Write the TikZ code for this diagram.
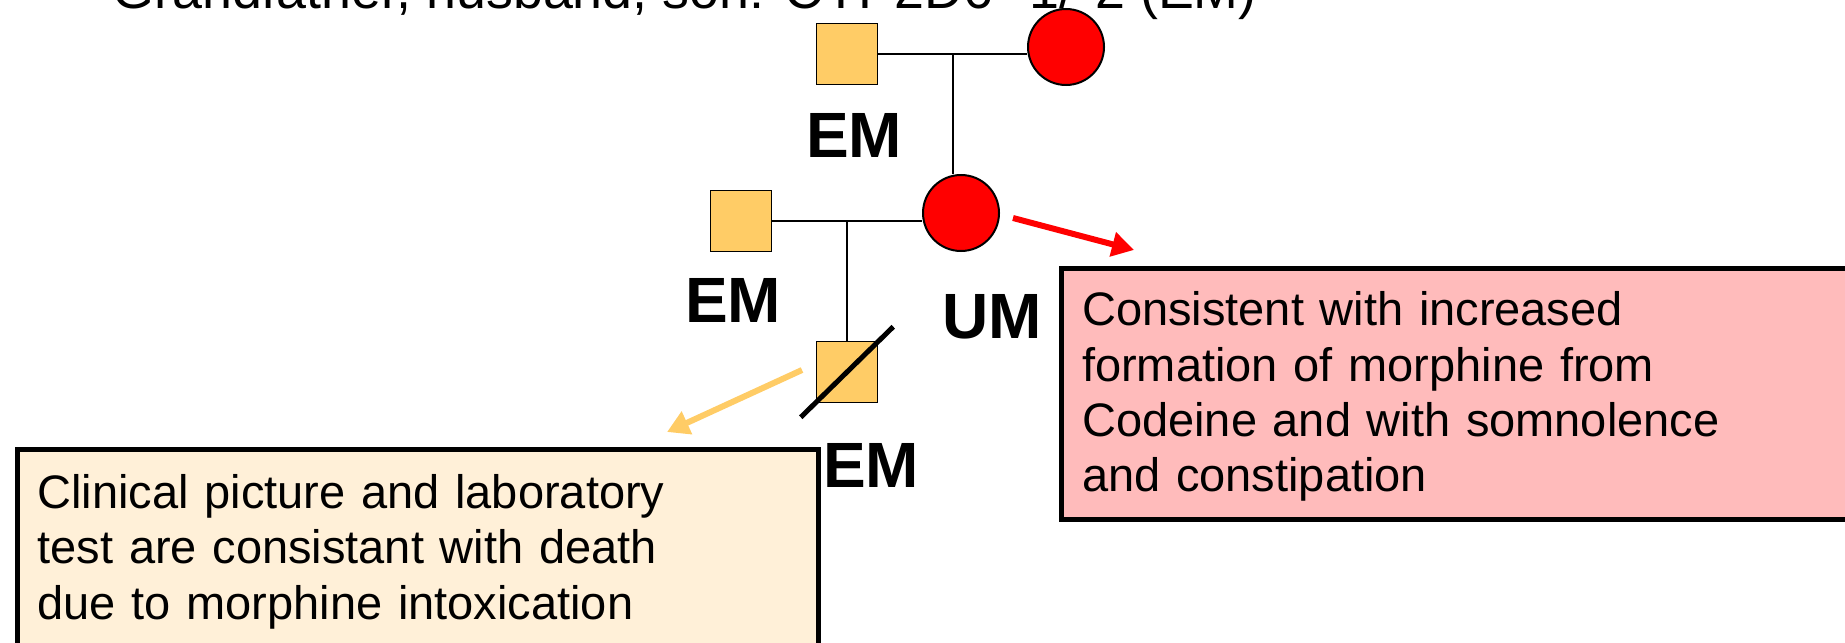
\documentclass[tikz,border=0pt]{standalone}
\usepackage{fontspec}
\setmainfont{Liberation Sans}
\usepackage{tikz}
\usetikzlibrary{arrows.meta,positioning}
\definecolor{emfill}{HTML}{FFCC66}
\definecolor{creamnote}{HTML}{FFF0D8}
\definecolor{pinknote}{HTML}{FFBBBB}

\begin{document}
\begin{tikzpicture}[x=0.5pt,y=-0.5pt,
  male/.style={draw,line width=0.75pt,fill=emfill,minimum size=30.5pt,inner sep=0pt},
  female/.style={draw,circle,line width=1pt,fill=red,minimum size=38pt,inner sep=0pt},
  pheno/.style={font=\fontsize{32}{38}\selectfont\bfseries,inner sep=0pt,anchor=base},
  note/.style={draw,line width=2.5pt,align=left,anchor=north west,inner xsep=10.3pt,inner ysep=0pt,font=\fontsize{23.5}{27.7}\selectfont},
  kin/.style={line width=0.75pt},
  hint/.style={line width=3pt,-{Triangle[length=11pt,width=12pt]}}]
\useasboundingbox (0,0) rectangle (1845,642);
\clip (0,0) rectangle (1845,642);
\node[anchor=base west,inner sep=0pt,font=\fontsize{26.9}{32}\selectfont] (title) at (112,9) {Grandfather, husband, son: CYP2D6 *1/*2 (EM)};
% grandparents
\node[male] (gf) at (847,54) {};
\node[female] (gm) at (1066,47) {};
\node[pheno] (gfem) at (854,157) {EM};
\coordinate (gpmid) at (953,54);
% parents
\node[female] (mom) at (961,213) {};
\node[male] (dad) at (741,221) {};
\node[pheno] (dadem) at (733,322) {EM};
\node[pheno] (momum) at (992,338) {UM};
\coordinate (pmid) at (847,221);
% son (deceased)
\node[male] (son) at (847,372) {};
\node[pheno] (sonem) at (871,487) {EM};
\draw[kin] (gf.east) -- (gf.east -| gm.west);
\draw[kin] (gpmid) -- (gpmid |- mom.north);
\draw[kin] (dad.east) -- (dad.east -| mom.west);
\draw[kin] (pmid) -- (son.north);
\draw[line width=2.5pt] ([shift={(-15,14)}]son.south west) -- ([shift={(15,-14)}]son.north east);
% notes
\node[note,fill=pinknote,minimum width=420.5pt,minimum height=125.5pt,text width=399.9pt,text depth=85.4pt] (umnote) at (1059,266)
  {Consistent with increased\\formation of morphine from\\Codeine and with somnolence\\and constipation};
\node[note,fill=creamnote,minimum width=400.75pt,minimum height=105.5pt,text width=380.15pt,text depth=63.7pt] (emnote) at (14.5,447)
  {Clinical picture and laboratory\\test are consistant with death\\due to morphine intoxication};
\coordinate (redtail) at (1013,218);
\coordinate (redtip) at (1134,250);
\coordinate (ortail) at (802,370);
\coordinate (ortip) at (667,432);
\draw[hint,red] (redtail) -- (redtip);
\draw[hint,emfill] (ortail) -- (ortip);
\end{tikzpicture}
\end{document}
